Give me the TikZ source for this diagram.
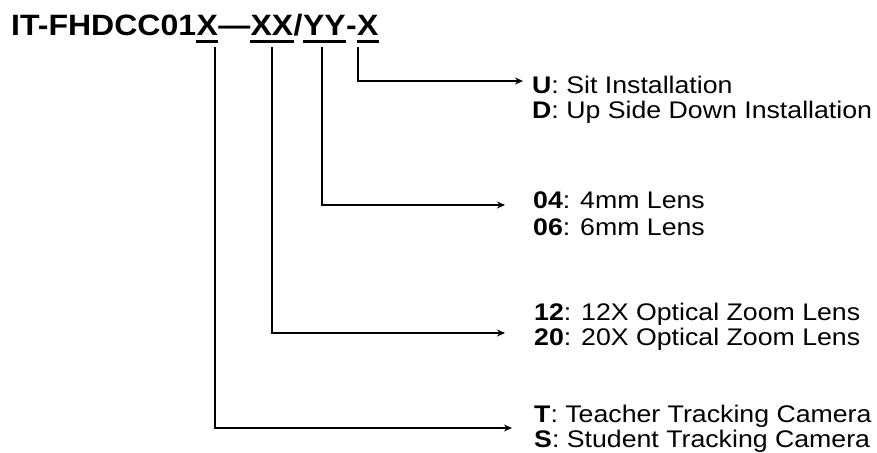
\documentclass[tikz,border=0pt]{standalone}
\usepackage{fontspec}
\setmainfont{Liberation Sans}
\usetikzlibrary{arrows.meta}
\newcommand{\tsq}[1]{\scalebox{1}[0.92]{#1}}
\newcommand{\lsq}[1]{\scalebox{1}[0.9]{#1}}
\begin{document}
\begin{tikzpicture}[x=1pt,y=-1pt,
  ttl/.style={inner sep=0pt, anchor=base west, font=\fontsize{32}{36}\selectfont\bfseries},
  lbl/.style={inner sep=0pt, anchor=base west, font=\fontsize{26.7}{30}\selectfont},
  uline/.style={line width=3pt},
  conn/.style={line width=1.6pt, -{Stealth[length=8pt,width=7pt]}}]
\useasboundingbox (0,0) rectangle (877,452);
% title
\node[ttl] (t0) at (11,36) {\tsq{IT-FHDCC01}};
\node[ttl] (t1) at (t0.base east) {\tsq{X}};
\node[ttl] (t2) at (t1.base east) {\tsq{—}};
\node[ttl] (t3) at (t2.base east) {\tsq{XX}};
\node[ttl] (t4) at (t3.base east) {\tsq{/}};
\node[ttl] (t5) at (t4.base east) {\tsq{YY}};
\node[ttl] (t6) at (t5.base east) {\tsq{-}};
\node[ttl] (t7) at (t6.base east) {\tsq{X}};
\foreach \n in {t1,t3,t5,t7}
  \draw[uline] ([yshift=-5.5pt]\n.base west) -- ([yshift=-5.5pt]\n.base east);
% labels
\node[lbl] (u1) at (532,93)  {\lsq{\textbf{U}: Sit Installation}};
\node[lbl] (u2) at (532,118) {\lsq{\textbf{D}: Up Side Down Installation}};
\node[lbl] (l1) at (533,208) {\lsq{\textbf{04}: 4mm Lens}};
\node[lbl] (l2) at (533,235) {\lsq{\textbf{06}: 6mm Lens}};
\node[lbl] (z1) at (534,320) {\lsq{\textbf{12}: 12X Optical Zoom Lens}};
\node[lbl] (z2) at (534,345) {\lsq{\textbf{20}: 20X Optical Zoom Lens}};
\node[lbl] (c1) at (534,422) {\lsq{\textbf{T}: Teacher Tracking Camera}};
\node[lbl] (c2) at (534,447) {\lsq{\textbf{S}: Student Tracking Camera}};
% connector start and end points
\coordinate (v1) at (215,47);
\coordinate (v2) at (272,47);
\coordinate (v3) at (322,47);
\coordinate (v4) at (358,47);
\coordinate (e1) at (512,428);
\coordinate (e2) at (505,333);
\coordinate (e3) at (505,205);
\coordinate (e4) at (523,81);
\draw[conn] (v1) |- (e1);
\draw[conn] (v2) |- (e2);
\draw[conn] (v3) |- (e3);
\draw[conn] (v4) |- (e4);
\end{tikzpicture}
\end{document}
